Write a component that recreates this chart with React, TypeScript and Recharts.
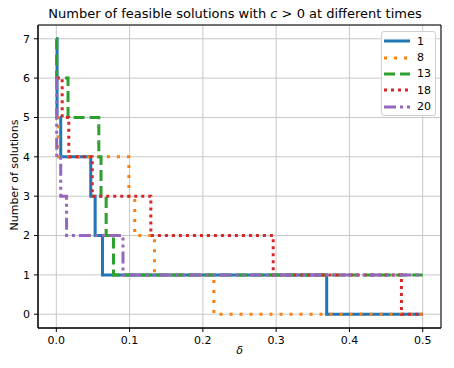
import { LineChart, Line, XAxis, YAxis, CartesianGrid, ReferenceArea } from "recharts";

const xTicks = [0, 0.1, 0.2, 0.3, 0.4, 0.5];
const yTicks = [0, 1, 2, 3, 4, 5, 6, 7];

const labels = ["1", "8", "13", "18", "20"];

const deltas1 = [0, 0.001, 0.006, 0.047, 0.053, 0.063, 0.369, 0.5];
const counts1 = [7, 5, 4, 3, 2, 1, 0, 0];

const deltas8 = [0, 0.003, 0.099, 0.107, 0.134, 0.215, 0.5];
const counts8 = [5, 4, 3, 2, 1, 0, 0];

const deltas13 = [0, 0.0005, 0.016, 0.058, 0.061, 0.068, 0.078, 0.5];
const counts13 = [7, 6, 5, 4, 3, 2, 1, 1];

const deltas18 = [0, 0.008, 0.017, 0.049, 0.129, 0.296, 0.471, 0.5];
const counts18 = [6, 5, 4, 3, 2, 1, 0, 0];

const deltas20 = [0, 0.0005, 0.006, 0.014, 0.091, 0.5];
const counts20 = [6, 4, 3, 2, 1, 1];

const toRows = (xs: number[], ys: number[]) => xs.map((x, i) => ({ x, y: ys[i] }));

const series = [
  { name: labels[0], data: toRows(deltas1, counts1), color: "#1f77b4", dash: undefined },
  { name: labels[1], data: toRows(deltas8, counts8), color: "#ff7f0e", dash: "3 7" },
  { name: labels[2], data: toRows(deltas13, counts13), color: "#2ca02c", dash: "11 5" },
  { name: labels[3], data: toRows(deltas18, counts18), color: "#d62728", dash: "3 4" },
  { name: labels[4], data: toRows(deltas20, counts20), color: "#9467bd", dash: "12 4 3 4 3 4" },
];

const font = "'DejaVu Sans', sans-serif";

const LegendBox = () => (
  <div
    style={{
      position: "absolute",
      left: 381,
      top: 31,
      width: 55,
      height: 85,
      boxSizing: "border-box",
      background: "rgba(255,255,255,0.8)",
      border: "1px solid #d0d0d0",
      borderRadius: 3,
      padding: "1px 0 0 2px",
      fontFamily: font,
      fontSize: 11,
      color: "#000",
    }}
  >
    {series.map((s) => (
      <div key={s.name} style={{ display: "flex", alignItems: "center", height: 16.4 }}>
        <svg width={26} height={6} style={{ marginRight: 7 }}>
          <line x1={0} y1={3} x2={26} y2={3} stroke={s.color} strokeWidth={3} strokeDasharray={s.dash} />
        </svg>
        <span>{s.name}</span>
      </div>
    ))}
  </div>
);

export default function App() {
  return (
    <div style={{ position: "absolute", left: 0, top: 0, width: 454, height: 368, background: "#fff", fontFamily: font }}>
      <LineChart width={454} height={368} margin={{ top: 25, right: 13, bottom: 0, left: 0 }}>
        <CartesianGrid stroke="#c8c8c8" strokeWidth={1} />
        <XAxis
          dataKey="x"
          type="number"
          domain={[-0.025, 0.525]}
          ticks={xTicks}
          allowDataOverflow
          tickFormatter={(v) => v.toFixed(1)}
          tick={{ fill: "#000", fontSize: 11, fontFamily: font }}
          tickSize={4}
          tickMargin={4}
          stroke="#000"
          height={40}
        />
        <YAxis
          type="number"
          domain={[-0.35, 7.35]}
          ticks={yTicks}
          allowDataOverflow
          tick={{ fill: "#000", fontSize: 11, fontFamily: font }}
          tickSize={4}
          tickMargin={4}
          stroke="#000"
          width={38}
        />
        {series.map((s) => (
          <Line
            key={s.name}
            data={s.data}
            dataKey="y"
            name={s.name}
            type="stepAfter"
            stroke={s.color}
            strokeWidth={3}
            strokeDasharray={s.dash}
            dot={false}
            activeDot={false}
            isAnimationActive={false}
          />
        ))}
        <ReferenceArea x1={-0.025} x2={0.525} y1={-0.35} y2={7.35} fill="none" stroke="#000" strokeWidth={1} ifOverflow="visible" />
      </LineChart>
      <div style={{ position: "absolute", left: 0, width: 470, top: 6, textAlign: "center", fontSize: 13, whiteSpace: "nowrap" }}>
        Number of feasible solutions with <i>c</i> &gt; 0 at different times
      </div>
      <div style={{ position: "absolute", left: 38, width: 403, top: 344, textAlign: "center", fontSize: 11, fontStyle: "italic" }}>
        δ
      </div>
      <div
        style={{
          position: "absolute",
          left: 14,
          top: 175,
          fontSize: 11,
          whiteSpace: "nowrap",
          transform: "translate(-50%, -50%) rotate(-90deg)",
        }}
      >
        Number of solutions
      </div>
      <LegendBox />
    </div>
  );
}
